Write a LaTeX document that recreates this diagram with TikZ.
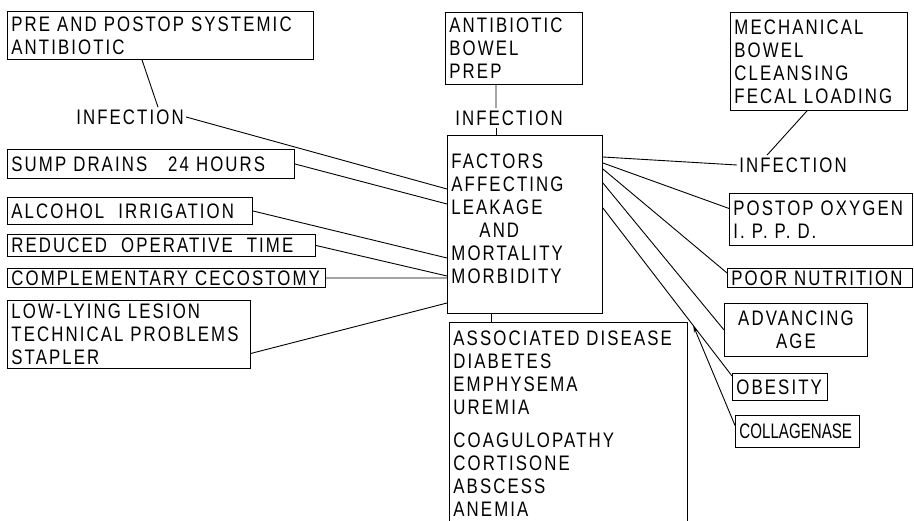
\documentclass[tikz,border=0pt]{standalone}
\usepackage{fontspec}
\setmainfont{Liberation Sans}[FakeStretch=0.8, LetterSpace=10]
\newfontfamily\narrowfont{Liberation Sans}[FakeStretch=0.72]
\usepackage{tikz}
\usetikzlibrary{arrows.meta, positioning, calc}

\begin{document}
\begin{tikzpicture}[
                    x=1pt, y=-1pt,
                    >=Stealth,
                    line width=0.9pt,
                    every node/.style={font=\fontsize{21}{23}\selectfont, inner sep=0pt},
                    box/.style={draw, anchor=north west, align=left, inner xsep=4pt, inner ysep=1pt},
                    lbl/.style={inner sep=2pt},
                ]
                \useasboundingbox (0,0) rectangle (914,520);
                \node[box, text width=298pt, minimum height=48pt] (pre) at (7,11) {PRE~AND~POSTOP~SYSTEMIC\\ANTIBIOTIC};
                \node[box, text width=279pt, minimum height=29pt] (sump) at (7,149) {SUMP~DRAINS~~~24~HOURS};
                \node[box, text width=237pt, minimum height=27pt] (alc) at (7,197) {ALCOHOL~~IRRIGATION};
                \node[box, text width=300pt, minimum height=22pt] (red) at (7,234) {REDUCED~~OPERATIVE~~TIME};
                \node[box, text width=310pt, minimum height=19pt] (comp) at (7,268) {COMPLEMENTARY~CECOSTOMY};
                \node[box, text width=235pt, minimum height=68pt] (low) at (7,300) {LOW-LYING~LESION\\TECHNICAL~PROBLEMS\\STAPLER};
                \node[box, text width=129pt, minimum height=72pt] (abp) at (445,12) {ANTIBIOTIC\\BOWEL\\PREP};
                \node[box, text width=147pt, minimum height=178pt] (fact) at (447,135) {FACTORS\\AFFECTING\\LEAKAGE\\\hspace*{28pt}AND\\MORTALITY\\MORBIDITY\\[-12pt]\mbox{}};
                \node[box, text width=169pt, minimum height=98pt] (mech) at (730,12) {MECHANICAL\\BOWEL\\CLEANSING\\FECAL~LOADING};
                \node[box, text width=175pt, minimum height=52pt] (postop) at (729,193) {POSTOP~OXYGEN\\I.~P.~P.~D.};
                \node[box, text width=177pt, minimum height=19pt] (poor) at (727,268) {POOR~NUTRITION};
                \node[box, align=center, text width=135pt, minimum height=53pt] (adv) at (724,303) {ADVANCING\\AGE};
                \node[box, text width=87pt, minimum height=27pt] (obes) at (732,373) {OBESITY};
                \node[box, text width=116pt, minimum height=32pt, font=\narrowfont\fontsize{21}{23}\selectfont] (coll) at (735,415) {COLLAGENASE};
                \node[box, text width=230pt, minimum height=202pt] (assoc) at (449,322) {ASSOCIATED~DISEASE\\DIABETES\\EMPHYSEMA\\UREMIA\\[10pt]COAGULOPATHY\\CORTISONE\\ABSCESS\\ANEMIA};

                \node[lbl] (inf1) at (130,117) {INFECTION};
                \node[lbl] (inf2) at (509,118) {INFECTION};
                \node[lbl] (inf3) at (793,165) {INFECTION};

                \draw ([xshift=135pt]pre.south west) -- ([xshift=28pt]inf1.north);
                \draw (inf1.east) -- ([yshift=-54pt]fact.north west);
                \draw (sump.east) -- ([yshift=-69pt]fact.north west);
                \draw (alc.east) -- ([yshift=-123pt]fact.north west);
                \draw (red.east) -- ([yshift=-141pt]fact.north west);
                \draw (comp.east) -- ([yshift=-143pt]fact.north west);
                \draw ([yshift=-19pt]low.east) -- ([yshift=-168pt]fact.north west);

                \draw ([xshift=-18pt]abp.south) -- ([xshift=-13pt]inf2.north);
                \draw ([xshift=-13pt]inf2.south) -- ([xshift=-13pt]inf2.south |- fact.north);
                \draw ([xshift=77pt]mech.south west) -- ([xshift=-26pt]inf3.north);

                \draw ([yshift=-22pt]fact.north east) -- (inf3.west);
                \draw ([yshift=-28pt]fact.north east) -- ([yshift=11pt]postop.west);
                \draw ([yshift=-34pt]fact.north east) -- ([yshift=5pt]poor.west);
                \draw ([yshift=-48pt]fact.north east) -- (adv.west);
                \draw ([yshift=-73pt]fact.north east) -- ([yshift=11pt]obes.west) coordinate[pos=0.7] (hit);
                \draw[-{Stealth[length=7pt, width=4pt]}] ([yshift=6pt]coll.west) -- (hit);
                \draw ([xshift=-34pt]fact.south) -- ([xshift=-34pt]fact.south |- assoc.north);
\end{tikzpicture}
\end{document}
